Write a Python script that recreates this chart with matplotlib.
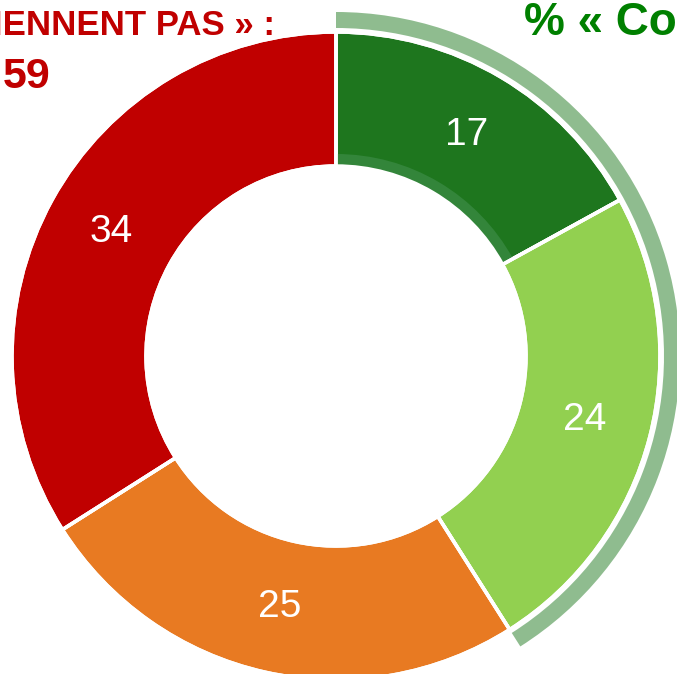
import numpy as np
import matplotlib.pyplot as plt

# survey shares, clockwise from the top
labels = ["Conviennent tout à fait", "Conviennent plutôt", "Ne conviennent plutôt pas", "Ne conviennent pas du tout"]
values = [17, 24, 25, 34]
colors = ["#1e761e", "#92d050", "#e87a22", "#c00000"]

yes_total = values[0] + values[1]
no_total = values[2] + values[3]

plt.rcParams["font.family"] = ["Liberation Sans", "DejaVu Sans"]

fig = plt.figure(figsize=(6.77, 6.74), dpi=100)
ax = fig.add_axes([0, 0, 1, 1])

cx, cy = 336, 318
r_out, r_in = 324, 190

# outer band marking the "conviennent" group
ax.pie([yes_total, no_total], colors=["#8fbc8f", "none"], startangle=90,
       counterclock=False, center=(cx, cy), radius=344,
       wedgeprops=dict(width=16, linewidth=0), frame=True)

# main ring
ax.pie(values, colors=colors, startangle=90, counterclock=False,
       center=(cx, cy), radius=r_out,
       wedgeprops=dict(width=r_out - r_in, edgecolor="white", linewidth=2.5),
       autopct=lambda p: f"{p:.0f}", pctdistance=(r_out + r_in) / 2 / r_out,
       textprops=dict(color="white", fontsize=28), frame=True)

# thin darker rim on the inside of the first slice
ax.pie([values[0], 100 - values[0]], colors=["#33853a", "none"], startangle=90,
       counterclock=False, center=(cx, cy), radius=r_in + 12,
       wedgeprops=dict(width=12, linewidth=0), frame=True)
# redraw the white separators over the rim
ax.pie(values, colors=["none"] * 4, startangle=90, counterclock=False,
       center=(cx, cy), radius=r_out,
       wedgeprops=dict(width=r_out - r_in, edgecolor="white", linewidth=2.5, fill=False),
       frame=True)

ax.set_xlim(0, 677)
ax.set_ylim(0, 674)
ax.set_aspect("equal")
ax.axis("off")

ax.text(275, 674 - 35, "% « NE CONVIENNENT PAS » :", color="#c00000",
        fontsize=25, fontweight="bold", ha="right", va="baseline")
ax.text(3, 674 - 88, f"{no_total}", color="#c00000",
        fontsize=31, fontweight="bold", ha="left", va="baseline")
ax.text(524, 674 - 35, "% « Conviennent » :", color="#008000",
        fontsize=33, fontweight="bold", ha="left", va="baseline")

fig.savefig("out.png", dpi=100)
